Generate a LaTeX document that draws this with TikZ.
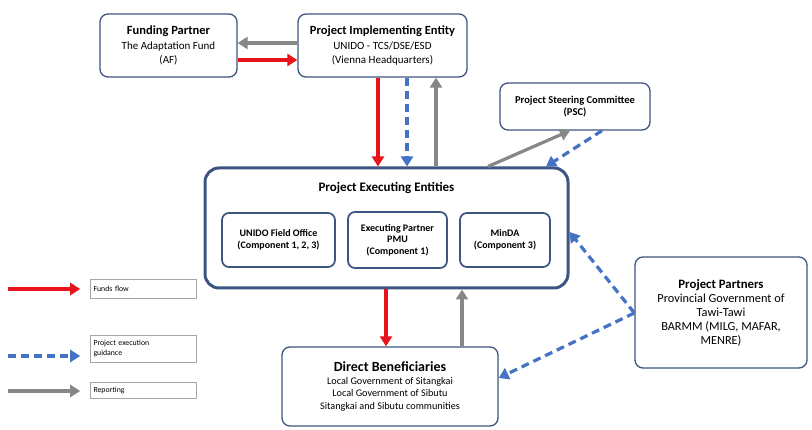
\documentclass[tikz,border=0pt]{standalone}
\usepackage{fontspec}
\setmainfont{Carlito}
\usetikzlibrary{arrows.meta,calc}
\definecolor{boxc}{HTML}{3F5581}
\definecolor{redc}{HTML}{E8141C}
\definecolor{bluec}{HTML}{4472C4}
\definecolor{grayc}{HTML}{878787}
\begin{document}
\begin{tikzpicture}[x=1pt,y=-1pt,
  box/.style={draw=boxc, line width=1.3pt, rounded corners=8pt, fill=white, align=center, inner sep=2pt},
  bigbox/.style={draw=boxc, line width=3pt, rounded corners=14pt, fill=white},
  inbox/.style={draw=boxc, line width=1.7pt, rounded corners=7pt, fill=white, align=center, inner sep=2pt, font=\fontsize{10}{11.5}\selectfont\bfseries},
  legbox/.style={draw=gray!70, line width=0.6pt, align=left, anchor=center, inner sep=3pt, text width=100pt, font=\fontsize{7.8}{9.5}\selectfont},
  redarrow/.style={draw=redc, line width=3.2pt, -{Triangle[length=10pt,width=12pt]}},
  bluearrow/.style={draw=bluec, line width=3.2pt, dash pattern=on 8pt off 5pt, -{Triangle[length=10pt,width=12pt]}},
  grayarrow/.style={draw=grayc, line width=3.2pt, -{Triangle[length=10pt,width=12pt]}}
]
\useasboundingbox (0,0) rectangle (812,430);
\fill[white] (0,0) rectangle (812,430);

% Boxes
\node[box, minimum width=137pt, minimum height=63pt, font=\fontsize{11}{14.5}\selectfont] (fp) at (168.5,45.5)
  {{\fontsize{12.5}{14.5}\selectfont\bfseries Funding Partner}\\The Adaptation Fund\\(AF)};
\node[box, minimum width=169pt, minimum height=63pt, font=\fontsize{11}{14.5}\selectfont] (pie) at (382.5,45.5)
  {{\fontsize{12.5}{14.5}\selectfont\bfseries Project Implementing Entity}\\UNIDO - TCS/DSE/ESD\\(Vienna Headquarters)};
\node[box, minimum width=150pt, minimum height=47pt, font=\fontsize{10.5}{11.5}\selectfont\bfseries] (psc) at (575,106.5)
  {Project Steering Committee\\(PSC)};
\node[bigbox, minimum width=363pt, minimum height=120pt] (pee) at (386.5,228) {};
\node[font=\fontsize{13}{15}\selectfont\bfseries] (peet) at (386.5,188) {Project Executing Entities};
\node[inbox, minimum width=113pt, minimum height=54pt] (ufo) at (278.5,240) {UNIDO Field Office\\(Component 1, 2, 3)};
\node[inbox, minimum width=99pt, minimum height=56pt] (pmu) at (397.5,240) {Executing Partner\\PMU\\(Component 1)};
\node[inbox, minimum width=90pt, minimum height=54pt] (minda) at (505,240) {MinDA\\(Component 3)};
\node[box, minimum width=216pt, minimum height=79pt, font=\fontsize{10.2}{12.5}\selectfont] (db) at (390,386.5)
  {{\fontsize{14}{15}\selectfont\bfseries Direct Beneficiaries}\\Local Government of Sitangkai\\Local Government of Sibutu\\Sitangkai and Sibutu communities};
\node[box, minimum width=172pt, minimum height=111pt, font=\fontsize{12.3}{14}\selectfont] (pp) at (721,312.5)
  {{\fontsize{12.8}{14}\selectfont\bfseries Project Partners}\\Provincial Government of\\Tawi-Tawi\\BARMM (MILG, MAFAR,\\MENRE)};

% Legend
\node[legbox, minimum height=19pt] (lf) at (143.5,288.5) {Funds flow};
\node[legbox, minimum height=27pt] (lg) at (143.5,348.5) {Project execution\\guidance};
\node[legbox, minimum height=16pt] (lr) at (143.5,390) {Reporting};
\coordinate (l1) at (8,289);
\coordinate (l2) at (8,356);
\coordinate (l3) at (8,391);
\draw[redarrow] (l1) -- ([xshift=-10pt]lf.west |- l1);
\draw[bluearrow] (l2) -- ([xshift=-10pt]lg.west |- l2);
\draw[grayarrow] (l3) -- ([xshift=-10pt]lr.west |- l3);

% Connectors
\draw[grayarrow] (pie.west |- 0,43) -- (fp.east |- 0,43);
\draw[redarrow] (fp.east |- 0,60) -- (pie.west |- 0,60);
\draw[redarrow] (pie.south -| 378,0) -- (pee.north -| 378,0);
\draw[bluearrow] (pie.south -| 407,0) -- (pee.north -| 407,0);
\draw[grayarrow] (pee.north -| 436,0) -- (pie.south -| 436,0);
\draw[grayarrow] (pee.north -| 488,0) -- (psc.south -| 570,0);
\draw[bluearrow] (psc.south -| 602,0) -- (pee.north -| 546,0);
\draw[redarrow] (pee.south -| 386,0) -- (db.north -| 386,0);
\draw[grayarrow] (db.north -| 462,0) -- (pee.south -| 462,0);
\draw[bluearrow] (pp.west |- 0,313) -- (pee.east |- 0,232);
\draw[bluearrow] (pp.west |- 0,313) -- (db.east |- 0,378);
\end{tikzpicture}
\end{document}
